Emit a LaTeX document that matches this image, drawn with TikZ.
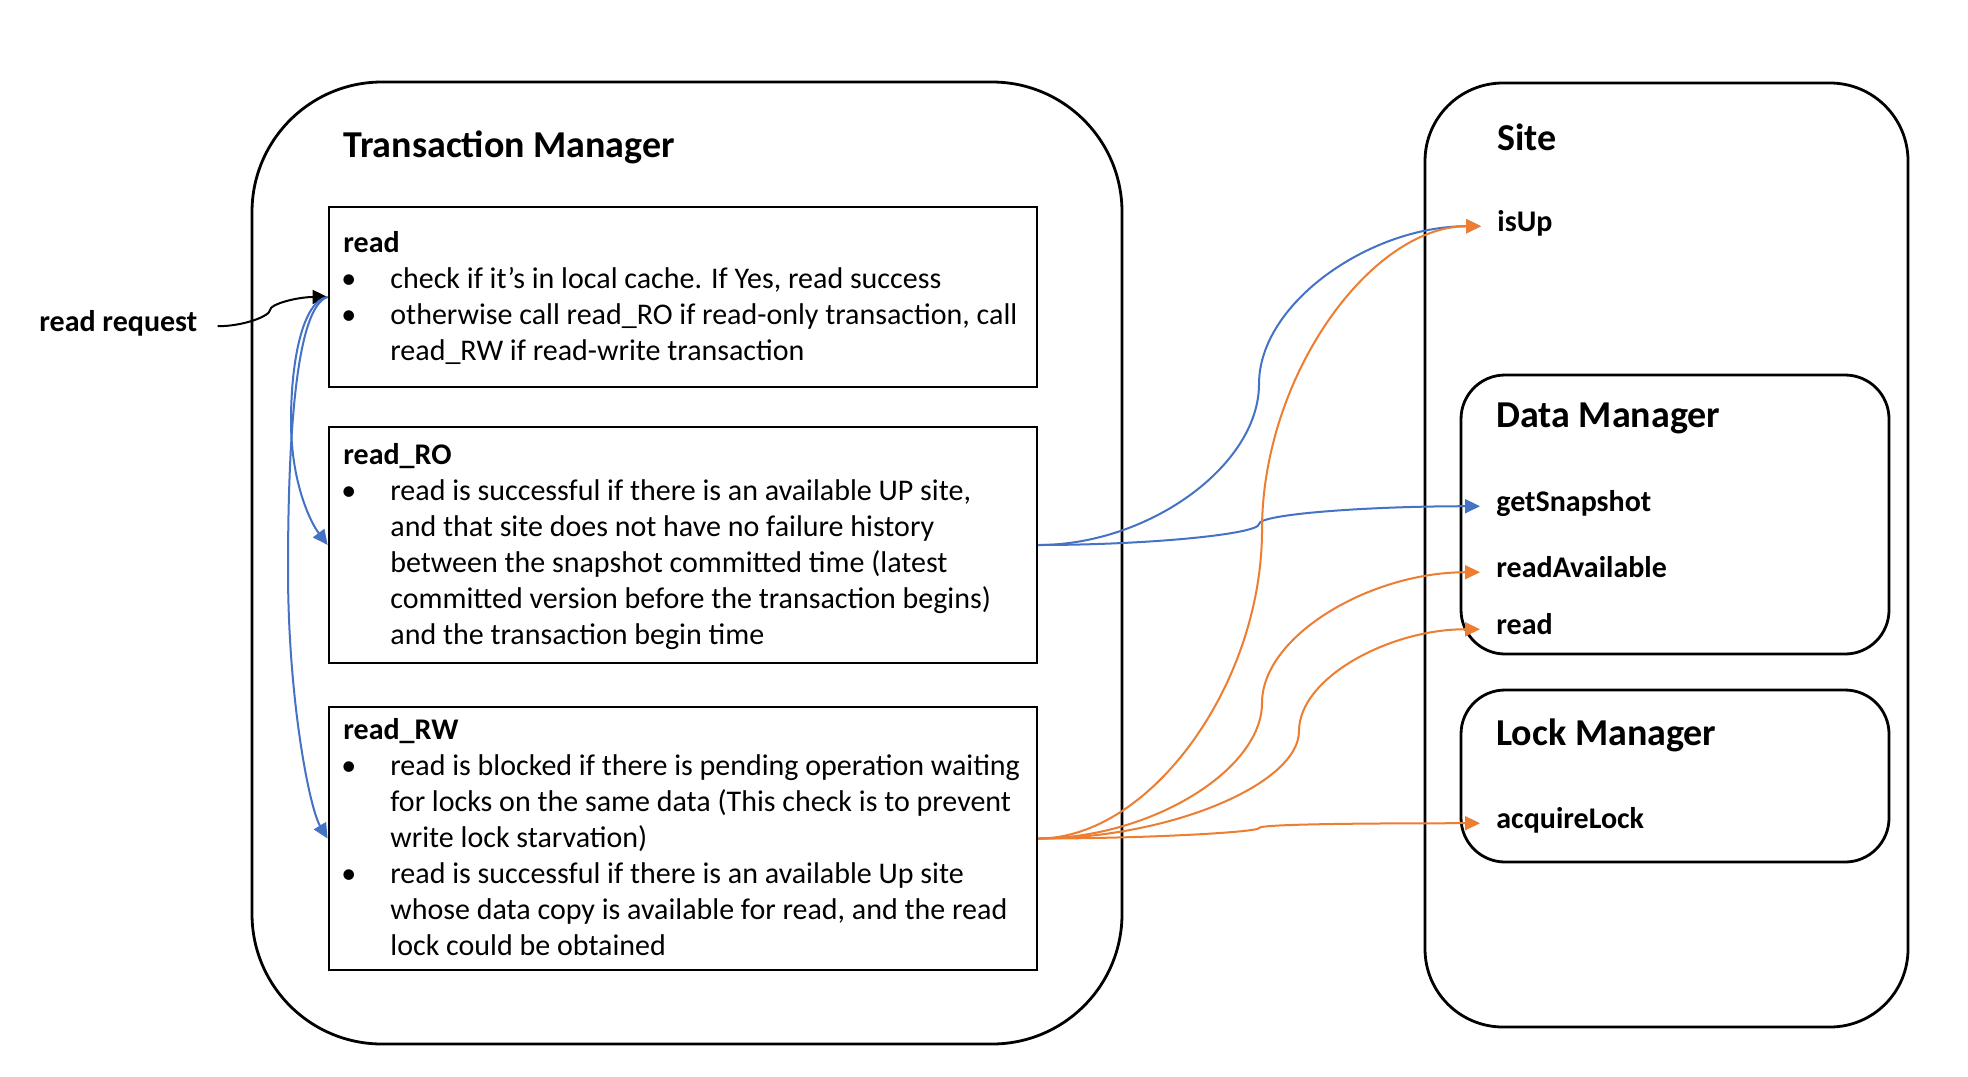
\documentclass[tikz,border=0pt]{standalone}
\usepackage{fontspec}
\setmainfont{Carlito}
\usetikzlibrary{arrows.meta}
\definecolor{pblue}{HTML}{4472C4}
\definecolor{porange}{HTML}{ED7D31}
\begin{document}
\begin{tikzpicture}[x=0.5pt,y=-0.5pt,
  frame/.style={draw, line width=1.4pt, inner sep=0},
  body/.style={anchor=base west, inner sep=0, font=\fontsize{15}{18}\selectfont},
  bodyb/.style={anchor=base west, inner sep=0, font=\bfseries\fontsize{15}{18}\selectfont},
  ttl/.style={anchor=base west, inner sep=0, font=\bfseries\fontsize{19}{23}\selectfont},
  conn/.style={line width=1pt, -{Triangle[length=7.5pt,width=7pt]}},
  oconn/.style={conn, draw=porange},
]
\useasboundingbox[fill=white] (0,0) rectangle (1968,1076);

% containers
\node[frame, rounded corners=65pt, minimum width=435pt, minimum height=481pt] (tm) at (687,563) {};
\node[frame, minimum width=354pt, minimum height=90pt] (rdbox) at (683,297) {};
\node[frame, minimum width=354pt, minimum height=118pt] (robox) at (683,545) {};
\node[frame, minimum width=354pt, minimum height=131.5pt] (rwbox) at (683,838.5) {};
\node[frame, rounded corners=39pt, minimum width=241.5pt, minimum height=472pt] (site) at (1666.5,555) {};
\node[frame, rounded corners=22pt, minimum width=214pt, minimum height=139.5pt] (dm) at (1675,514.5) {};
\node[frame, rounded corners=22pt, minimum width=214pt, minimum height=86pt] (lm) at (1675,776) {};

% titles
\node[ttl] (tmt) at (343,157) {Transaction Manager};
\node[ttl] (sitet) at (1497,150) {Site};
\node[ttl] (dmt) at (1496,427) {Data Manager};
\node[ttl] (lmt) at (1496,745) {Lock Manager};

% site functions
\node[bodyb] (isup) at (1497,231) {isUp};
\node[bodyb] (gs) at (1496,511) {getSnapshot};
\node[bodyb] (ra) at (1496,577) {readAvailable};
\node[bodyb] (rd) at (1496,634) {read};
\node[bodyb] (al) at (1496,828) {acquireLock};

\node[bodyb] (req) at (39,331) {read request};

% read box
\node[bodyb] (rdt) at (343,252) {read};
\node[body] (rdb1) at (341,288) {•};
\node[body] (rdl1) at (390,288) {check if it’s in local cache. If Yes, read success};
\node[body] (rdb2) at (341,324) {•};
\node[body] (rdl2) at (390,324) {otherwise call read\_RO if read-only transaction, call};
\node[body] (rdl3) at (390,360) {read\_RW if read-write transaction};

% read_RO box
\node[bodyb] (rot) at (343,464) {read\_RO};
\node[body] (rob1) at (341,500) {•};
\node[body] (rol1) at (390,500) {read is successful if there is an available UP site,};
\node[body] (rol2) at (390,536) {and that site does not have no failure history};
\node[body] (rol3) at (390,572) {between the snapshot committed time (latest};
\node[body] (rol4) at (390,608) {committed version before the transaction begins)};
\node[body] (rol5) at (390,644) {and the transaction begin time};

% read_RW box
\node[bodyb] (rwt) at (343,739) {read\_RW};
\node[body] (rwb1) at (341,775) {•};
\node[body] (rwl1) at (390,775) {read is blocked if there is pending operation waiting};
\node[body] (rwl2) at (390,811) {for locks on the same data (This check is to prevent};
\node[body] (rwl3) at (390,847) {write lock starvation)};
\node[body] (rwb2) at (341,883) {•};
\node[body] (rwl4) at (390,883) {read is successful if there is an available Up site};
\node[body] (rwl5) at (390,919) {whose data copy is available for read, and the read};
\node[body] (rwl6) at (390,955) {lock could be obtained};

% connectors
\draw[conn] ([xshift=10pt]req.mid east) .. controls +(26,0) and +(0,6) .. (270,310)
  .. controls +(0,-6) and +(-30,0) .. (rdbox.west);

\draw[conn, draw=pblue] (rdbox.west) .. controls +(-25,4) and +(0,-60) .. (291,421)
  .. controls +(0,60) and +(-18,-24) .. (robox.west);
\draw[conn, draw=pblue] (rdbox.west) .. controls +(-32,10) and +(0,-130) .. (288,570)
  .. controls +(0,130) and +(-18,-30) .. (rwbox.west);

\draw[conn, draw=pblue] (robox.east) .. controls +(111,0) and +(0,81) .. (1259,384)
  .. controls +(0,-81) and +(-111,0) .. ([xshift=-8pt]isup.mid west);
\draw[conn, draw=pblue] (robox.east) .. controls +(111,0) and +(0,10) .. (1259,524)
  .. controls +(0,-10) and +(-111,0) .. ([xshift=-8pt]gs.mid west);

\draw[oconn] (rwbox.east) .. controls +(112,0) and +(0,154) .. (1262,530)
  .. controls +(0,-154) and +(-110,0) .. ([xshift=-8pt]isup.mid west);
\draw[oconn] (rwbox.east) .. controls +(112,0) and +(0,67) .. (1262,703)
  .. controls +(0,-67) and +(-110,0) .. ([xshift=-8pt]ra.mid west);
\draw[oconn] (rwbox.east) .. controls +(131,0) and +(0,53) .. (1299,731)
  .. controls +(0,-53) and +(-91,0) .. ([xshift=-8pt]rd.mid west);
\draw[oconn] (rwbox.east) .. controls +(111,0) and +(0,4) .. (1259,828)
  .. controls +(0,-4) and +(-111,0) .. ([xshift=-8pt]al.mid west);
\end{tikzpicture}
\end{document}
